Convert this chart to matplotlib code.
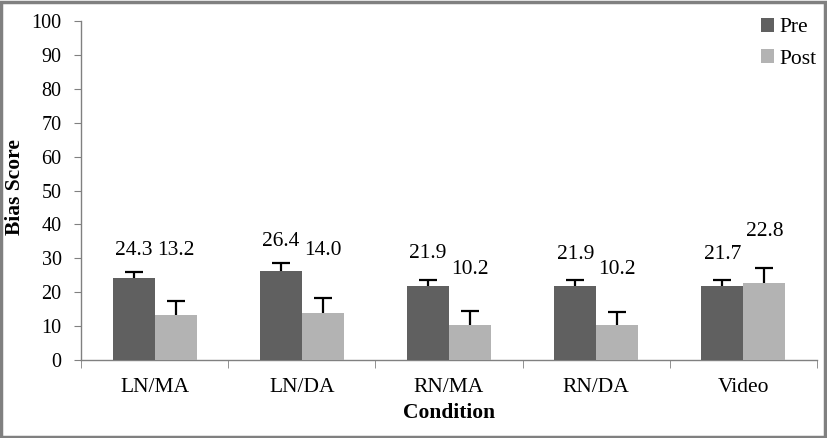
import matplotlib
matplotlib.use("Agg")
import matplotlib.pyplot as plt
from matplotlib.patches import Rectangle
import numpy as np

categories = ["LN/MA", "LN/DA", "RN/MA", "RN/DA", "Video"]
pre = [24.3, 26.4, 21.9, 21.9, 21.7]
post = [13.2, 14.0, 10.2, 10.2, 22.8]
pre_err = [1.7, 2.1, 1.8, 1.8, 2.0]
post_err = [4.2, 4.4, 4.4, 4.0, 4.4]
yticks = list(range(0, 101, 10))

# label offsets above error-bar tops (data units), as manually placed in the original
pre_lab_off = [6.3, 6.5, 7.8, 7.3, 7.3]
post_lab_off = [14.8, 13.8, 12.0, 12.6, 10.8]

plt.rcParams["font.family"] = ["Liberation Serif", "DejaVu Serif"]

fig = plt.figure(figsize=(8.28, 4.38), dpi=100)
ax = fig.add_axes([81/828, 1-360/438, (817-81)/828, (360-21)/438])

x = np.arange(len(categories))
w = 0.285
pre_c = "#606060"
post_c = "#b3b3b3"
ax.bar(x - w/2, pre, w, color=pre_c, label="Pre", zorder=3)
ax.bar(x + w/2, post, w, color=post_c, label="Post", zorder=3)
# symmetric error bars drawn behind the bars so only the upper half shows
ax.errorbar(x - w/2, pre, yerr=pre_err, fmt="none", ecolor="black",
            elinewidth=1.6, capsize=6.5, capthick=1.6, zorder=2)
ax.errorbar(x + w/2, post, yerr=post_err, fmt="none", ecolor="black",
            elinewidth=1.6, capsize=6.5, capthick=1.6, zorder=2)

for i in range(len(categories)):
    ax.text(x[i] - w/2, pre[i] + pre_err[i] + pre_lab_off[i], f"{pre[i]:.1f}",
            ha="center", va="center", fontsize=15.5)
    ax.text(x[i] + w/2, post[i] + post_err[i] + post_lab_off[i], f"{post[i]:.1f}",
            ha="center", va="center", fontsize=15.5)

ax.set_xlim(-0.5, len(categories) - 0.5)
ax.set_ylim(0, 100)
ax.set_yticks(yticks)
ax.tick_params(axis="y", labelsize=14.5, length=5, color="#808080", pad=9)
ax.set_xticks(x)
ax.set_xticklabels(categories, fontsize=15.5)
ax.tick_params(axis="x", which="major", length=0, pad=13)
ax.set_xticks(np.arange(-0.5, len(categories)), minor=True)
ax.tick_params(axis="x", which="minor", length=6, color="#808080")

for s in ["top", "right"]:
    ax.spines[s].set_visible(False)
for s in ["left", "bottom"]:
    ax.spines[s].set_color("#808080")
    ax.spines[s].set_linewidth(1.0)

ax.set_ylabel("Bias Score", fontsize=15.5, fontweight="bold")
ax.yaxis.set_label_coords((25 - 81) / 736, (360 - 187) / 339)
ax.set_xlabel("Condition", fontsize=15.5, fontweight="bold", labelpad=4)

leg = fig.legend(loc="upper left", bbox_to_anchor=(761/828, 1-18/438), frameon=False,
                 fontsize=15.5, handlelength=0.6, handleheight=0.6, handletextpad=0.25,
                 labelspacing=0.55, borderpad=0, borderaxespad=0)

fig.add_artist(Rectangle((0.0015, 0.003), 0.995, 0.993, transform=fig.transFigure,
                         fill=False, edgecolor="#808080", linewidth=2.5))

fig.savefig("out.png", dpi=100)
